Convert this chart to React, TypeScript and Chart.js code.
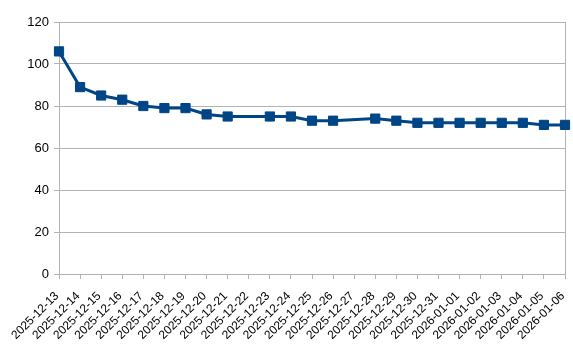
import React, { useEffect, useRef } from "react";
import { Chart, registerables } from "chart.js";

Chart.register(...registerables);

const categories = [
  "2025-12-13", "2025-12-14", "2025-12-15", "2025-12-16", "2025-12-17",
  "2025-12-18", "2025-12-19", "2025-12-20", "2025-12-21", "2025-12-22",
  "2025-12-23", "2025-12-24", "2025-12-25", "2025-12-26", "2025-12-27",
  "2025-12-28", "2025-12-29", "2025-12-30", "2025-12-31", "2026-01-01",
  "2026-01-02", "2026-01-03", "2026-01-04", "2026-01-05", "2026-01-06",
];

const values: (number | null)[] = [
  106, 89, 85, 83, 80,
  79, 79, 76, 75, null,
  75, 75, 73, 73, null,
  74, 73, 72, 72, 72,
  72, 72, 72, 71, 71,
];

const yTicks = [0, 20, 40, 60, 80, 100, 120];

const LINE = "#004586";
const GRID = "#b3b3b3";

export default function App() {
  const ref = useRef<HTMLCanvasElement | null>(null);

  useEffect(() => {
    document.body.style.margin = "0";
    const canvas = ref.current;
    if (!canvas) return;
    const last = categories.length - 1;
    const chart = new Chart(canvas, {
      type: "line",
      data: {
        labels: categories,
        datasets: [
          {
            data: values,
            borderColor: LINE,
            backgroundColor: LINE,
            borderWidth: 3,
            pointStyle: "rect",
            pointRadius: 6.5,
            pointBorderWidth: 1,
            pointBackgroundColor: LINE,
            pointBorderColor: LINE,
            spanGaps: true,
            tension: 0,
          },
        ],
      },
      options: {
        animation: false,
        responsive: false,
        maintainAspectRatio: false,
        layout: { padding: { top: 22, right: 8, left: 27, bottom: 0 } },
        plugins: { legend: { display: false }, tooltip: { enabled: false } },
        scales: {
          x: {
            type: "category",
            offset: false,
            afterFit: (scale: any) => {
              scale.height = 72;
              scale.paddingLeft = 0;
              scale.paddingRight = 0;
            },
            grid: {
              display: true,
              drawOnChartArea: true,
              drawTicks: true,
              tickLength: 5,
              color: (ctx: any) => (ctx.index === last ? GRID : "rgba(0,0,0,0)"),
              tickColor: GRID,
              lineWidth: 1,
            },
            border: { display: true, color: GRID, width: 1 },
            ticks: {
              autoSkip: false,
              maxRotation: 45,
              minRotation: 45,
              color: "#000",
              padding: 10,
              labelOffset: -2,
              font: { family: "'Liberation Sans', Arial, sans-serif", size: 12 },
            },
          },
          y: {
            min: 0,
            max: 120,
            afterFit: (scale: any) => {
              scale.width = 32;
              scale.paddingTop = 0;
              scale.paddingBottom = 0;
            },
            afterBuildTicks: (axis: any) => {
              axis.ticks = yTicks.map((v) => ({ value: v }));
            },
            grid: {
              color: GRID,
              tickColor: GRID,
              tickLength: 5,
              lineWidth: 1,
            },
            border: { display: true, color: GRID, width: 1 },
            ticks: {
              color: "#000",
              padding: 5,
              font: { family: "'Liberation Sans', Arial, sans-serif", size: 13 },
            },
          },
        },
      },
    } as any);
    return () => chart.destroy();
  }, []);

  return (
    <div style={{ width: 573, height: 346 }}>
      <canvas ref={ref} width={573} height={346} style={{ width: 573, height: 346, display: "block" }} />
    </div>
  );
}
